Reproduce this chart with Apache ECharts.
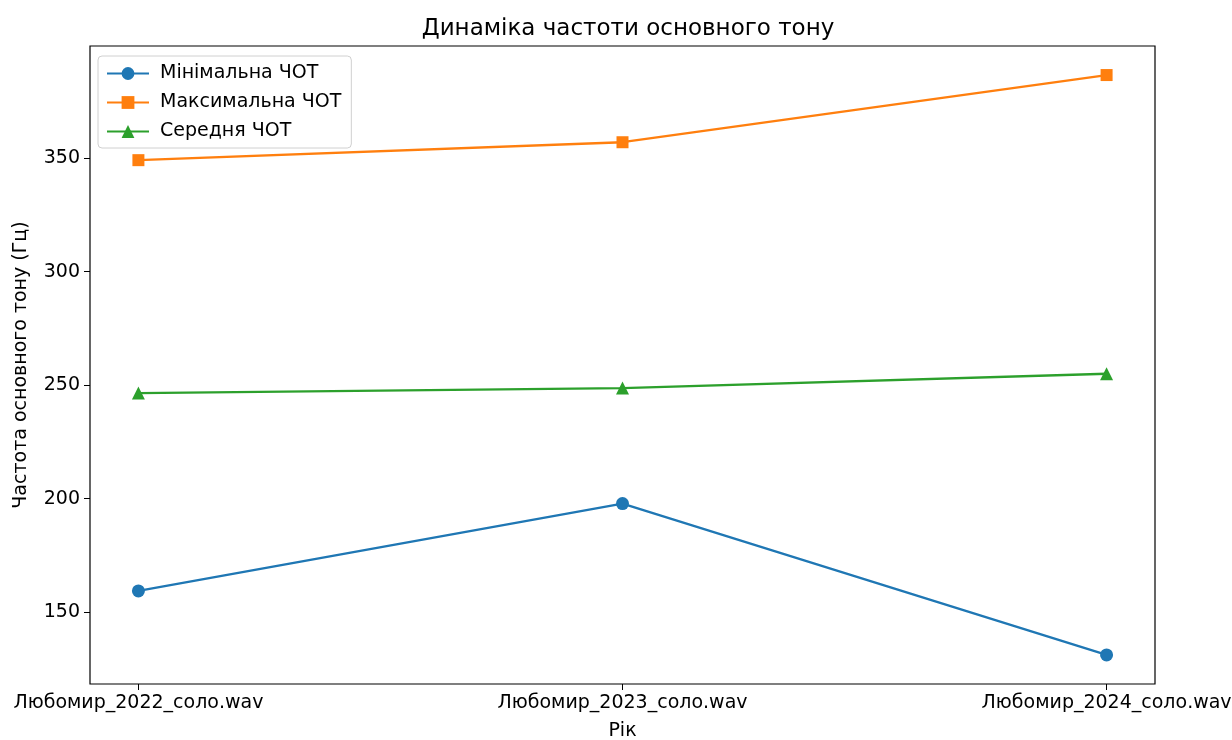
<!DOCTYPE html>
<html>
<head>
<meta charset="utf-8">
<script src="https://cdn.jsdelivr.net/npm/echarts@6/dist/echarts.min.js"></script>
<style>
  html, body { margin: 0; padding: 0; background: #fff; }
  #chart { width: 1232px; height: 740px; }
</style>
</head>
<body>
<div id="chart"></div>
<script>
var files = ['Любомир_2022_соло.wav', 'Любомир_2023_соло.wav', 'Любомир_2024_соло.wav'];
var minF0 = [159.3, 197.8, 131.1];
var maxF0 = [349.1, 357.0, 386.6];
var meanF0 = [246.5, 248.7, 255.0];
var yTicks = [150, 200, 250, 300, 350];

function pairs(arr) {
  return arr.map(function (v, i) { return [i, v]; });
}

var font = 'DejaVu Sans';
var chart = echarts.init(document.getElementById('chart'));

var option = {
  animation: false,
  backgroundColor: '#fff',
  textStyle: { fontFamily: font },
  title: {
    text: 'Динаміка частоти основного тону',
    left: 623,
    top: 13,
    textAlign: 'center',
    textStyle: { fontFamily: font, fontSize: 23, fontWeight: 'normal', color: '#000' }
  },
  grid: {
    left: 90, right: 77, top: 46, bottom: 56,
    outerBoundsMode: 'none',
    show: true, borderColor: '#000', borderWidth: 1.2, backgroundColor: '#fff'
  },
  legend: {
    left: 98, top: 56,
    orient: 'vertical',
    padding: [8, 10, 7, 8],
    itemGap: 10,
    itemWidth: 42,
    itemHeight: 16,
    borderColor: '#d0d0d0',
    borderWidth: 1,
    borderRadius: 4,
    backgroundColor: 'rgba(255,255,255,0.8)',
    textStyle: { fontFamily: font, fontSize: 19, color: '#000', padding: [0, 0, 0, 6] },
    data: ['Мінімальна ЧОТ', 'Максимальна ЧОТ', 'Середня ЧОТ']
  },
  xAxis: {
    type: 'value',
    min: -0.1, max: 2.1,
    name: 'Рік',
    nameLocation: 'middle',
    nameGap: 38,
    nameTextStyle: { fontFamily: font, fontSize: 19, color: '#000' },
    axisLine: { show: false, onZero: false },
    splitLine: { show: false },
    axisTick: { show: true, customValues: [0, 1, 2], length: 6, lineStyle: { color: '#000' } },
    axisLabel: {
      customValues: [0, 1, 2],
      margin: 10,
      fontFamily: font, fontSize: 19, color: '#000',
      formatter: function (v) { return files[Math.round(v)]; }
    }
  },
  yAxis: {
    type: 'value',
    min: 118.3, max: 399.4,
    name: 'Частота основного тону (Гц)',
    nameLocation: 'middle',
    nameGap: 59,
    nameTextStyle: { fontFamily: font, fontSize: 19, color: '#000' },
    axisLine: { show: false, onZero: false },
    splitLine: { show: false },
    axisTick: { show: true, customValues: yTicks, length: 6, lineStyle: { color: '#000' } },
    axisLabel: {
      customValues: yTicks,
      margin: 10,
      fontFamily: font, fontSize: 19, color: '#000'
    }
  },
  series: [
    {
      name: 'Мінімальна ЧОТ', type: 'line', data: pairs(minF0),
      color: '#1f77b4', symbol: 'circle', symbolSize: 13,
      lineStyle: { width: 2.3 }, itemStyle: { borderWidth: 0 }
    },
    {
      name: 'Максимальна ЧОТ', type: 'line', data: pairs(maxF0),
      color: '#ff7f0e', symbol: 'rect', symbolSize: 12,
      lineStyle: { width: 2.3 }, itemStyle: { borderWidth: 0 }
    },
    {
      name: 'Середня ЧОТ', type: 'line', data: pairs(meanF0),
      color: '#2ca02c', symbol: 'triangle', symbolSize: 13,
      lineStyle: { width: 2.3 }, itemStyle: { borderWidth: 0 }
    }
  ]
};

chart.setOption(option);
</script>
</body>
</html>
